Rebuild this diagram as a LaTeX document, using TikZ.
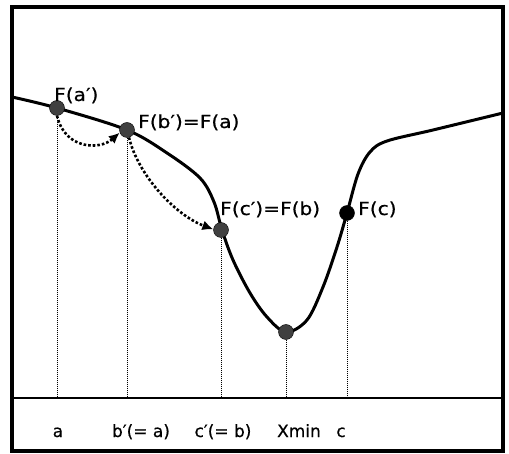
\documentclass[tikz,border=0pt]{standalone}
\usepackage{fontspec}
\setmainfont{DejaVu Sans}[FakeStretch=1.12,FakeBold=0.6]
\newfontfamily\axisfont{DejaVu Sans}[FakeBold=0.6]
\usetikzlibrary{arrows.meta,calc}

\begin{document}
\begin{tikzpicture}[x=1pt,y=-1pt,>={Latex[length=11pt,width=10pt]},
  pt/.style={circle,draw=black,fill=black!75,minimum size=15pt,inner sep=0pt},
  lbl/.style={anchor=base west,inner sep=0pt,font=\fontsize{18}{20}\selectfont},
  tick/.style={anchor=base,inner sep=0pt,font=\axisfont\fontsize{17}{19}\selectfont},
  guide/.style={densely dotted,line width=1pt},
  jump/.style={->,dotted,line width=2.6pt}]
  \useasboundingbox (0,0) rectangle (509,454);

  % frame and axis strip
  \draw[line width=3.2pt] (12,7) rectangle (503,451);
  \draw[line width=2pt] (12,398) -- (503,398);
  \coordinate (D) at (12,398);

  % the function
  \draw[line width=3pt] plot[smooth,tension=0.55] coordinates {
    (12,97) (57,108) (127,130) (167,153) (200,178) (214,202) (222,230)
    (233,260) (250,293) (267,317) (286,332) (307,320) (323,287) (337,247)
    (347,213) (358,174) (370,152) (387,141) (433,130) (503,113)};

  % points on the curve
  \node[pt] (Ap) at (57,108) {};
  \node[pt] (Bp) at (127,130) {};
  \node[pt] (Cp) at (221,230) {};
  \node[pt] (M) at (286,332) {};
  \node[pt,fill=black] (C) at (347,213) {};

  % guides down to the axis
  \foreach \p in {Ap,Bp,Cp,M,C}
    \draw[guide] (\p) -- (\p |- D);

  % steps
  \draw[jump] (Ap.south) .. controls (65,150) and (100,150) .. (Bp.200);
  \draw[jump] (Bp.-75) .. controls (138,175) and (175,215) .. (Cp.175);

  % values
  \node[lbl] (lAp) at (54,101) {F(a′)};
  \node[lbl] (lBp) at (138,128) {F(b′)=F(a)};
  \node[lbl] (lCp) at (220,215) {F(c′)=F(b)};
  \node[lbl] (lC) at (358,215) {F(c)};

  % abscissae
  \node[tick] (xa) at (58,437) {a};
  \node[tick] (xb) at (141,437) {b′(= a)};
  \node[tick] (xc) at (223,437) {c′(= b)};
  \node[tick] (xm) at (299,437) {Xmin};
  \node[tick] (xcc) at (341,437) {c};
\end{tikzpicture}
\end{document}
